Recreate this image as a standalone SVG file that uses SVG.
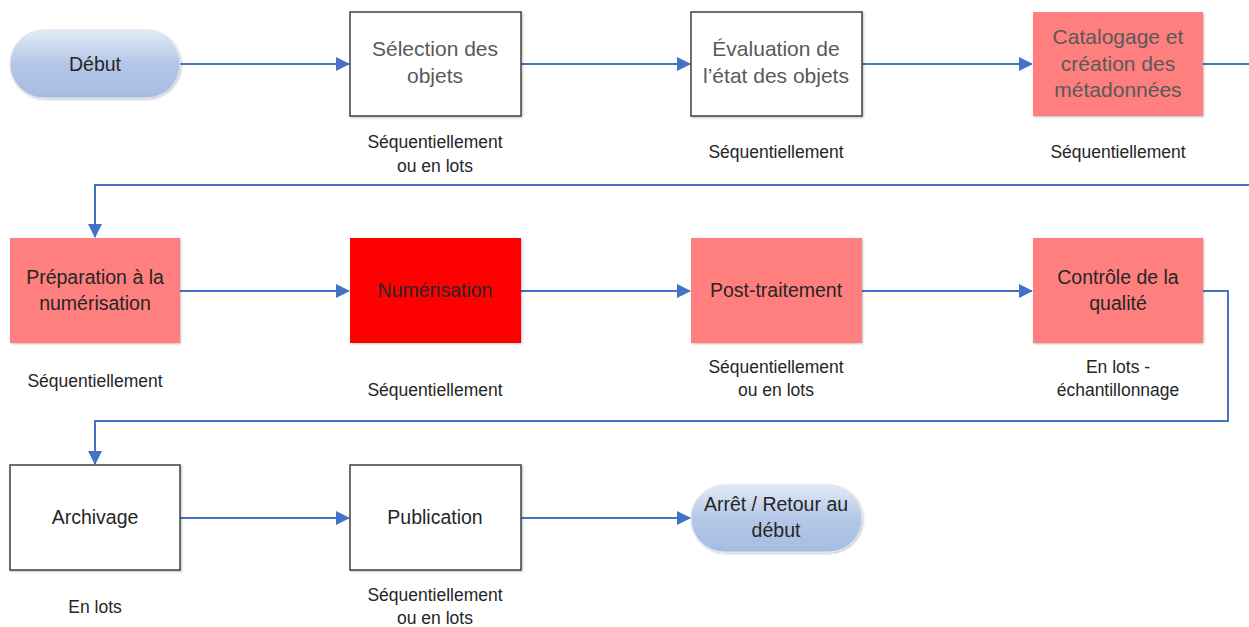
<svg xmlns="http://www.w3.org/2000/svg" width="1249" height="627" viewBox="0 0 1249 627">
<defs>
<linearGradient id="pill" x1="0" y1="0" x2="0" y2="1">
<stop offset="0" stop-color="#e3eaf6"/>
<stop offset="0.5" stop-color="#b4c7e7"/>
<stop offset="1" stop-color="#a5bce2"/>
</linearGradient>
<marker id="arr" markerWidth="14" markerHeight="14" refX="13" refY="7" orient="auto" markerUnits="userSpaceOnUse">
<path d="M0,0 L14,7 L0,14 Z" fill="#4472c4"/>
</marker>
<filter id="sh" x="-10%" y="-10%" width="130%" height="130%">
<feDropShadow dx="1" dy="1" stdDeviation="1" flood-color="#000" flood-opacity="0.25"/>
</filter>
</defs>
<style>
text{font-family:"Liberation Sans",Arial,sans-serif;text-anchor:middle;fill:#262626}
.t1{font-size:21px;fill:#595959}
.t2{font-size:19.5px}
.lb{font-size:17.5px}
.wb{fill:#fff;stroke:#404040;stroke-width:1.5}
.pk{fill:#ff7f7f}
.rd{fill:#ff0000}
.pl{fill:url(#pill);stroke:#dde4ef;stroke-width:1}
.cn{fill:none;stroke:#4472c4;stroke-width:2}
</style>
<rect width="1249" height="627" fill="#fff"/>
<g id="connectors">
<path class="cn" d="M180,64 H349" marker-end="url(#arr)"/>
<path class="cn" d="M521,64 H690" marker-end="url(#arr)"/>
<path class="cn" d="M862,64 H1032" marker-end="url(#arr)"/>
<path class="cn" d="M1203,64 H1249"/>
<path class="cn" d="M1249,185 H95 V237" marker-end="url(#arr)"/>
<path class="cn" d="M180,291 H349" marker-end="url(#arr)"/>
<path class="cn" d="M521,291 H690" marker-end="url(#arr)"/>
<path class="cn" d="M862,291 H1032" marker-end="url(#arr)"/>
<path class="cn" d="M1203,291 H1228 V421 H95 V464" marker-end="url(#arr)"/>
<path class="cn" d="M180,518 H349" marker-end="url(#arr)"/>
<path class="cn" d="M521,518 H690" marker-end="url(#arr)"/>
</g>
<g id="debut">
<rect class="pl" x="10" y="30" width="170" height="68" rx="34" filter="url(#sh)"/>
<text class="t2" x="95" y="71">Début</text>
</g>
<g id="selection">
<rect class="wb" x="350" y="12" width="171" height="104" filter="url(#sh)"/>
<text class="t1" x="435" y="56">Sélection des</text>
<text class="t1" x="435" y="83">objets</text>
<text class="lb" x="435" y="148">Séquentiellement</text>
<text class="lb" x="435" y="172">ou en lots</text>
</g>
<g id="evaluation">
<rect class="wb" x="691" y="12" width="171" height="104" filter="url(#sh)"/>
<text class="t1" x="776" y="56">Évaluation de</text>
<text class="t1" x="776" y="83">l’état des objets</text>
<text class="lb" x="776" y="158">Séquentiellement</text>
</g>
<g id="catalogage">
<rect class="pk" x="1033" y="12" width="170" height="104" filter="url(#sh)"/>
<text class="t1" x="1118" y="44">Catalogage et</text>
<text class="t1" x="1118" y="71">création des</text>
<text class="t1" x="1118" y="97">métadonnées</text>
<text class="lb" x="1118" y="158">Séquentiellement</text>
</g>
<g id="preparation">
<rect class="pk" x="10" y="238" width="170" height="105" filter="url(#sh)"/>
<text class="t2" x="95" y="284">Préparation à la</text>
<text class="t2" x="95" y="310">numérisation</text>
<text class="lb" x="95" y="387">Séquentiellement</text>
</g>
<g id="numerisation">
<rect class="rd" x="350" y="238" width="171" height="105" filter="url(#sh)"/>
<text class="t2" x="435" y="297">Numérisation</text>
<text class="lb" x="435" y="396">Séquentiellement</text>
</g>
<g id="posttraitement">
<rect class="pk" x="691" y="238" width="171" height="105" filter="url(#sh)"/>
<text class="t2" x="776" y="297">Post-traitement</text>
<text class="lb" x="776" y="373">Séquentiellement</text>
<text class="lb" x="776" y="396">ou en lots</text>
</g>
<g id="controle">
<rect class="pk" x="1033" y="238" width="170" height="105" filter="url(#sh)"/>
<text class="t2" x="1118" y="284">Contrôle de la</text>
<text class="t2" x="1118" y="310">qualité</text>
<text class="lb" x="1118" y="373">En lots -</text>
<text class="lb" x="1118" y="396">échantillonnage</text>
</g>
<g id="archivage">
<rect class="wb" x="10" y="465" width="170" height="105" filter="url(#sh)"/>
<text class="t2" x="95" y="524">Archivage</text>
<text class="lb" x="95" y="613">En lots</text>
</g>
<g id="publication">
<rect class="wb" x="350" y="465" width="171" height="105" filter="url(#sh)"/>
<text class="t2" x="435" y="524">Publication</text>
<text class="lb" x="435" y="601">Séquentiellement</text>
<text class="lb" x="435" y="624">ou en lots</text>
</g>
<g id="arret">
<rect class="pl" x="691" y="485" width="171" height="67" rx="33.5" filter="url(#sh)"/>
<text class="t2" x="776" y="511">Arrêt / Retour au</text>
<text class="t2" x="776" y="537">début</text>
</g>
</svg>
